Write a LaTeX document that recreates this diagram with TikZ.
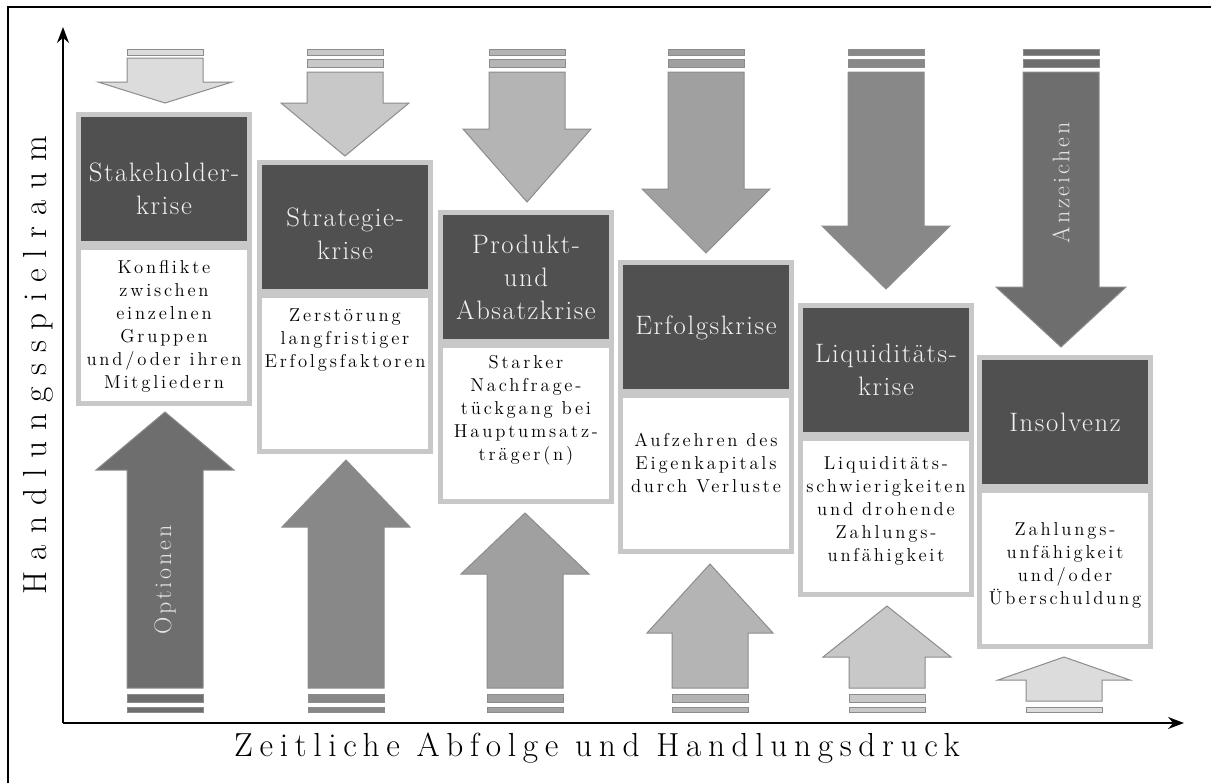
\documentclass[tikz,border=0pt]{standalone}
\usepackage{fontspec}
\setmainfont{Latin Modern Roman}
\newfontfamily\headfont{Latin Modern Roman}[LetterSpace=6]
\newfontfamily\bodyfont{Latin Modern Roman}[LetterSpace=15]
\newfontfamily\axisfont{Latin Modern Roman}[LetterSpace=20]
\newfontfamily\sideaxisfont{Latin Modern Roman}[LetterSpace=33]
\newfontfamily\arrowfont{Latin Modern Roman}[LetterSpace=12]
\usetikzlibrary{arrows.meta}

\definecolor{framegray}{HTML}{C8C8C8}
\definecolor{headgray}{HTML}{505050}
\definecolor{headtextgray}{HTML}{F2F2F2}
\definecolor{outlinegray}{HTML}{8C8C8C}
\definecolor{arrowtextgray}{HTML}{E6E6E6}
\definecolor{gA}{HTML}{DCDCDC}
\definecolor{gB}{HTML}{C8C8C8}
\definecolor{gC}{HTML}{B4B4B4}
\definecolor{gD}{HTML}{A0A0A0}
\definecolor{gE}{HTML}{888888}
\definecolor{gF}{HTML}{6E6E6E}

\tikzset{
  headtext/.style={text=headtextgray, align=center, inner sep=0pt,
    font=\headfont\fontsize{20}{24.75}\selectfont},
  bodytext/.style={text=black, align=center, inner sep=0pt,
    font=\bodyfont\fontsize{14}{17.25}\selectfont},
  shapeout/.style={draw=outlinegray, line width=0.75pt},
  axisline/.style={line width=1.2pt, -{Stealth[length=12pt,width=9pt]}},
  axislabel/.style={inner sep=0pt, font=\axisfont\fontsize{25}{28}\selectfont},
  sidelabel/.style={inner sep=0pt, rotate=90, font=\sideaxisfont\fontsize{25}{28}\selectfont},
  arrowtext/.style={text=arrowtextgray, rotate=90, inner sep=0pt,
    font=\arrowfont\fontsize{18}{20}\selectfont},
}

% crisis box: name, left, top, header text, header centre y, body text, body centre y
\newcommand\krisenbox[7]{%
  \fill[framegray] (#2,#3) rectangle ++(176,294);
  \fill[headgray] ({#2+5},{#3+5}) rectangle ++(166,124);
  \fill[white] ({#2+5},{#3+138}) rectangle ++(166,151);
  \node[headtext] (#1-head) at ({#2+88},#5) {#4};
  \node[bodytext] (#1-body) at ({#2+88},#7) {#6};
}
% block arrow: centre x, base y, shoulder y, tip y, head half width, fill
\newcommand\blockarrow[6]{%
  \filldraw[shapeout, fill=#6] ({#1-38},#2) -- ({#1+38},#2) -- ({#1+38},#3)
    -- ({#1+#5},#3) -- (#1,#4) -- ({#1-#5},#3) -- ({#1-38},#3) -- cycle;
}
% bar under or over an arrow: centre x, y from, y to, fill
\newcommand\arrowbar[4]{%
  \filldraw[shapeout, fill=#4] ({#1-38},#2) rectangle ({#1+38},#3);
}

\begin{document}
\begin{tikzpicture}[x=0.75pt, y=-0.75pt]
\useasboundingbox (0,0) rectangle (1211,783);
% frame (its right and bottom sides lie beyond the page)
\draw[line width=1.5pt] (8,783) -- (8,7) -- (1211,7);

% axes
\coordinate (origin) at (63,723);
\coordinate (ytip) at (63,27);
\coordinate (xtip) at (1184,723);
\draw[axisline] (origin) -- (ytip);
\draw[axisline] (origin) -- (xtip);
\node[sidelabel] (ylabel) at (38,365) {Handlungsspielraum};
\node[axislabel] (xlabel) at (597,748) {Zeitliche Abfolge und Handlungsdruck};

% warning signs coming down
\arrowbar{165}{49}{55}{gA}
\blockarrow{165}{58}{82}{103}{67}{gA}

\arrowbar{345}{49}{55}{gB}\arrowbar{345}{59}{67}{gB}
\blockarrow{345}{72}{103}{156}{64}{gB}

\arrowbar{527}{49}{55}{gC}\arrowbar{527}{59}{67}{gC}
\blockarrow{527}{72}{129}{202}{64}{gC}

\arrowbar{706}{49}{55}{gD}\arrowbar{706}{59}{67}{gD}
\blockarrow{706}{72}{189}{253}{64}{gD}

\arrowbar{886}{49}{55}{gE}\arrowbar{886}{59}{67}{gE}
\blockarrow{886}{72}{226}{289}{64}{gE}

\arrowbar{1061}{49}{55}{gF}\arrowbar{1061}{59}{67}{gF}
\blockarrow{1061}{72}{287}{347}{65}{gF}
\node[arrowtext] (anzeichen) at (1061,183) {Anzeichen};

% options going up
\blockarrow{165}{688}{470}{412}{69}{gF}
\arrowbar{165}{694}{702}{gF}\arrowbar{165}{707}{712}{gF}
\node[arrowtext] (optionen) at (165,580) {Optionen};

\blockarrow{346}{688}{527}{460}{64}{gE}
\arrowbar{346}{694}{702}{gE}\arrowbar{346}{707}{712}{gE}

\blockarrow{525}{688}{574}{513}{64}{gD}
\arrowbar{525}{694}{702}{gD}\arrowbar{525}{707}{712}{gD}

\blockarrow{710}{688}{633}{564}{63}{gC}
\arrowbar{710}{694}{702}{gC}\arrowbar{710}{707}{712}{gC}

\blockarrow{887}{688}{657}{606}{64}{gB}
\arrowbar{887}{694}{702}{gB}\arrowbar{887}{707}{712}{gB}

\blockarrow{1064}{701}{680}{657}{66}{gA}
\arrowbar{1064}{707}{712}{gA}

% crisis stages
\krisenbox{stake}{76}{112}{Stakeholder-\\krise}{189}
  {Konflikte\\zwischen\\einzelnen\\Gruppen\\und/oder ihren\\Mitgliedern}{326}
\krisenbox{strat}{257}{160}{Strategie-\\krise}{234}
  {Zerstörung\\langfristiger\\Erfolgsfaktoren}{340}
\krisenbox{prod}{438}{210}{Produkt-\\und\\Absatzkrise}{277}
  {Starker\\Nachfrage-\\tückgang bei\\Hauptumsatz-\\träger(n)}{410}
\krisenbox{erfolg}{618}{260}{Erfolgskrise}{328}
  {Aufzehren des\\Eigenkapitals\\durch Verluste}{463}
\krisenbox{liqui}{798}{303}{Liquiditäts-\\krise}{370}
  {Liquiditäts-\\schwierigkeiten\\und drohende\\Zahlungs-\\unfähigkeit}{511}
\krisenbox{insol}{977}{355}{Insolvenz}{422}
  {Zahlungs-\\unfähigkeit\\und/oder\\Überschuldung}{565}
\end{tikzpicture}
\end{document}
